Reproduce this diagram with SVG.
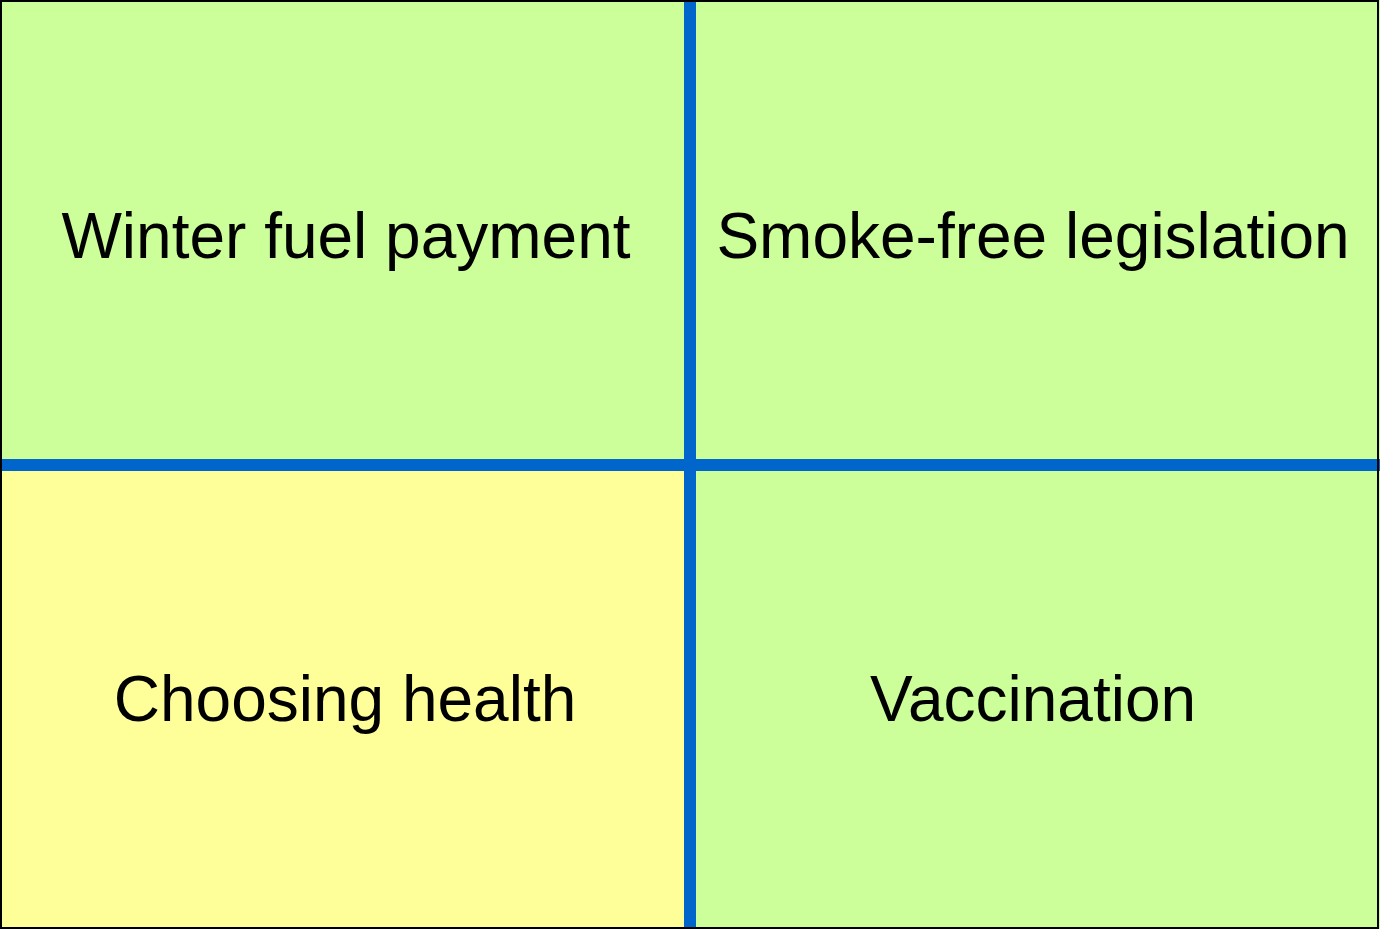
<svg xmlns="http://www.w3.org/2000/svg" width="1380" height="929" viewBox="0 0 1380 929">
<style>
.g{fill:#CCFF99}
.y{fill:#FFFF99}
.t{font-family:"Liberation Sans",Arial,sans-serif;font-size:64px;fill:#000;text-anchor:middle}
.bar{fill:#0066CC}
</style>
<g id="cell-winter"><rect class="g" x="0" y="0" width="690" height="465"/><text class="t" x="346" y="258">Winter fuel payment</text></g>
<g id="cell-smoke"><rect class="g" x="690" y="0" width="690" height="465"/><text class="t" x="1033" y="258">Smoke-free legislation</text></g>
<g id="cell-choosing"><rect class="y" x="0" y="465" width="690" height="464"/><text class="t" x="345" y="721">Choosing health</text></g>
<g id="cell-vaccination"><rect class="g" x="690" y="465" width="690" height="464"/><text class="t" x="1033" y="721">Vaccination</text></g>
<g id="connectors">
<rect class="bar" x="684" y="0" width="12" height="929"/>
<rect class="bar" x="0" y="459" width="1380" height="12"/>
</g>
<rect x="1" y="1" width="1377" height="927" fill="none" stroke="#000" stroke-width="2"/>
</svg>
